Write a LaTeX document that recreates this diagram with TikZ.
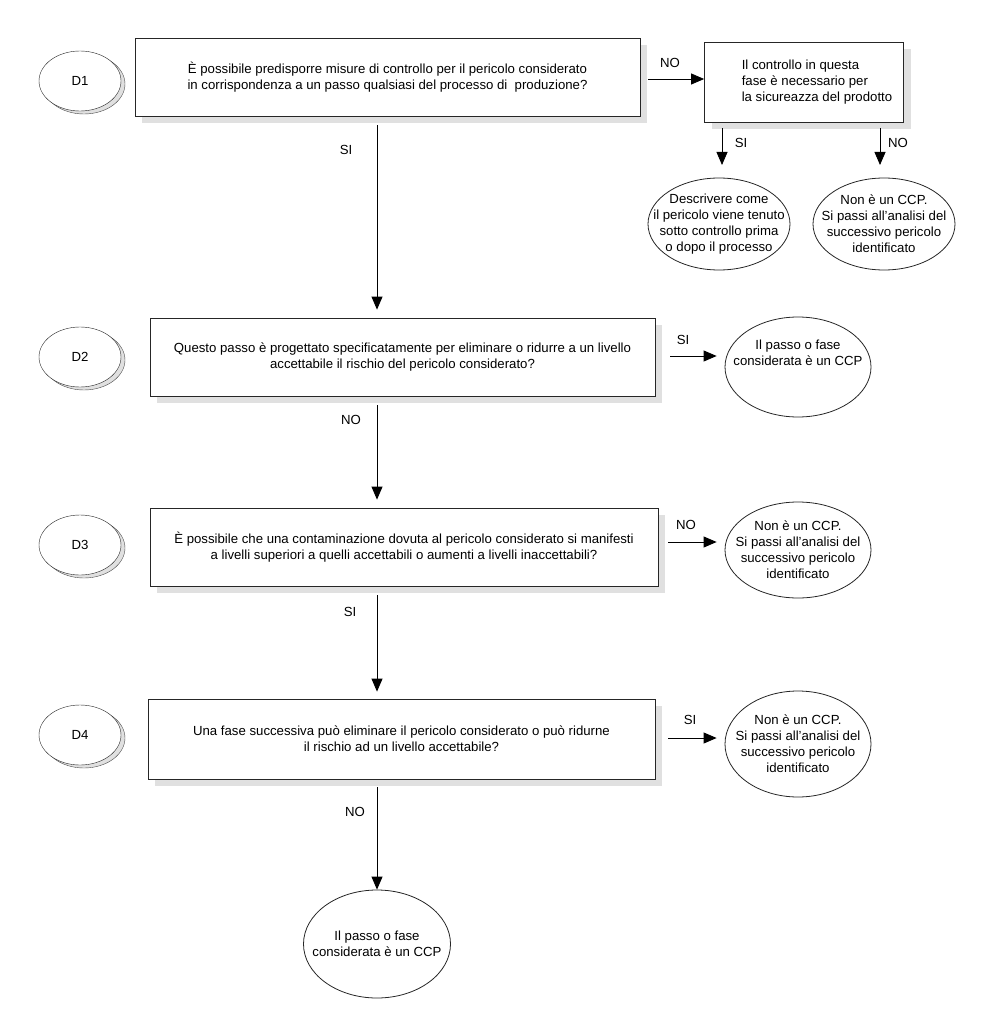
\documentclass[tikz,border=0pt]{standalone}
\usepackage{fontspec}
\setmainfont{Liberation Sans}
\usetikzlibrary{shapes.geometric,arrows.meta,shadows,positioning}

\begin{document}
\begin{tikzpicture}[x=1pt, y=-1pt,
        font=\fontsize{13.2}{16}\selectfont,
        box/.style={draw=black!85, line width=0.8pt, fill=white, align=center, inner sep=0pt,
            drop shadow={shadow xshift=7pt, shadow yshift=-7pt, fill=black!12, opacity=1}},
        dnode/.style={ellipse, draw=black!85, fill=white, minimum width=82pt, minimum height=60pt, inner sep=0pt,
            copy shadow={shadow xshift=4pt, shadow yshift=-3pt, fill=black!12, draw=black!70}},
        leaf/.style={ellipse, draw=black!85, line width=0.8pt, fill=white, align=center,
            inner xsep=-30pt, inner ysep=-15pt, minimum width=146pt, minimum height=96pt},
        arr/.style={-{Triangle[length=13pt, width=11pt]}, line width=0.8pt},
        lab/.style={inner sep=1pt}]

        % Page frame
        \useasboundingbox (0,0) rectangle (982,1024);

        % Step labels D1..D4
        \foreach \n/\y in {1/81, 2/357, 3/545, 4/735} {
            \node[dnode] (d\n) at (80,\y) {D\n};
        }

        % Question boxes
        \node[box, minimum width=505pt, minimum height=78pt] (q1) at (387.5,77)
            {È possibile predisporre misure di controllo per il pericolo considerato\\
             in corrispondenza a un passo qualsiasi del processo di\ \ produzione?};
        \node[box, minimum width=505pt, minimum height=78pt] (q2) at (402.5,357)
            {Questo passo è progettato specificatamente per eliminare o ridurre a un livello\\
             accettabile il rischio del pericolo considerato?};
        \node[box, minimum width=508pt, minimum height=78pt] (q3) at (404,547)
            {È possibile che una contaminazione dovuta al pericolo considerato si manifesti\\
             a livelli superiori a quelli accettabili o aumenti a livelli inaccettabili?};
        \node[box, minimum width=507pt, minimum height=80pt] (q4) at (401.5,739)
            {Una fase successiva può eliminare il pericolo considerato o può ridurne\\
             il rischio ad un livello accettabile?};
        \node[box, minimum width=199pt, minimum height=80pt] (ctrl) at (804,82)
            {\hspace*{26pt}\begin{tabular}{@{}l@{}}Il controllo in questa\\fase è necessario per\\la sicureazza del prodotto\end{tabular}};

        % Outcomes
        \node[leaf, minimum width=142pt, minimum height=92pt] (descr) at (719,224)
            {Descrivere come\\il pericolo viene tenuto\\sotto controllo prima\\o dopo il processo};
        \node[leaf, minimum width=142pt, minimum height=92pt] (noccpa) at (884,224)
            {Non è un CCP.\\Si passi all'analisi del\\successivo pericolo\\identificato};
        \node[leaf, minimum height=100pt] (ccpa) at (798,367) {};
        \node[align=center, inner sep=0pt] (ccpatext) at (798,353)
            {Il passo o fase\\considerata è un CCP};
        \node[leaf] (noccpb) at (798,550)
            {Non è un CCP.\\Si passi all'analisi del\\successivo pericolo\\identificato};
        \node[leaf, minimum height=106pt] (noccpc) at (798,744)
            {Non è un CCP.\\Si passi all'analisi del\\successivo pericolo\\identificato};
        \node[leaf, minimum width=147pt, minimum height=108pt] (ccpb) at (377,944)
            {Il passo o fase\\considerata è un CCP};

        % Main column
        \coordinate (col) at (377,0);
        \draw[arr, shorten <=9pt, shorten >=8pt] (q1.south -| col) -- (q2.north -| col);
        \draw[arr, shorten <=9pt, shorten >=8pt] (q2.south -| col) -- (q3.north -| col);
        \draw[arr, shorten <=9pt, shorten >=7pt] (q3.south -| col) -- (q4.north -| col);
        \draw[arr, shorten <=8pt] (q4.south -| col) -- (ccpb.north);

        % Side branches
        \draw[arr, shorten <=8pt] (q1.east |- 0,79) -- (ctrl.west |- 0,79);
        \draw[arr, shorten <=6pt, shorten >=13pt] (ctrl.south -| 722,0) -- (722,178);
        \draw[arr, shorten <=6pt, shorten >=13pt] (ctrl.south -| 880,0) -- (880,178);
        \draw[arr, shorten <=15pt, shorten >=8pt] (q2.east |- 0,356) -- (ccpa.west |- 0,356);
        \draw[arr, shorten <=10pt, shorten >=8pt] (q3.east |- 0,542) -- (noccpb.west |- 0,542);
        \draw[arr, shorten <=13pt, shorten >=8pt] (q4.east |- 0,738) -- (noccpc.west |- 0,738);

        % Answer labels
        \node[lab] (a1) at (670,63) {NO};
        \node[lab] (a2) at (741,143) {SI};
        \node[lab] (a3) at (898,143) {NO};
        \node[lab] (a4) at (346,150) {SI};
        \node[lab] (a5) at (683,340) {SI};
        \node[lab] (a6) at (351,420) {NO};
        \node[lab] (a7) at (686,525) {NO};
        \node[lab] (a8) at (350,612) {SI};
        \node[lab] (a9) at (690,720) {SI};
        \node[lab] (a10) at (355,812) {NO};
    \end{tikzpicture}
\end{document}
